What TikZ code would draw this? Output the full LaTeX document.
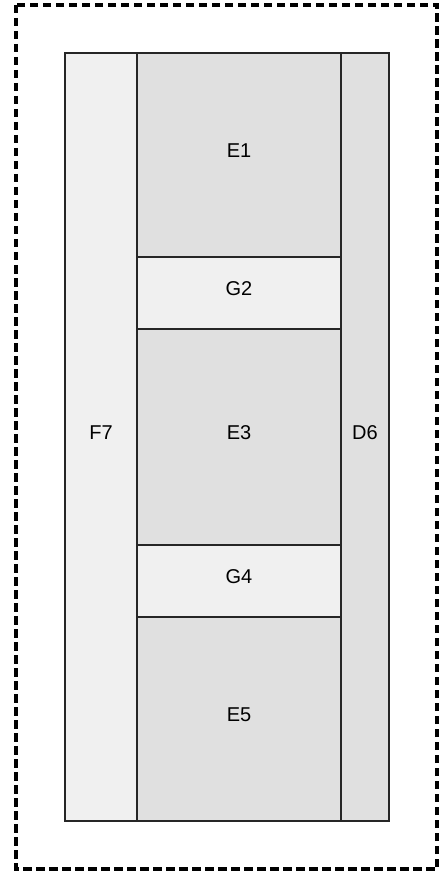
\documentclass[tikz,border=0pt]{standalone}
\usepackage{fontspec}
\setmainfont{Liberation Sans}
\usetikzlibrary{positioning}

\definecolor{cellpale}{HTML}{F0F0F0}
\definecolor{celldark}{HTML}{E0E0E0}
\tikzset{
  cell/.style={draw=black!85, line width=1.4pt, inner sep=0pt, outer sep=0pt,
    text depth=8pt, font=\fontsize{20}{24}\selectfont},
  pale/.style={cell, fill=cellpale},
  dark/.style={cell, fill=celldark},
}

\begin{document}
\begin{tikzpicture}[x=1pt,y=-1pt]
\useasboundingbox (0,0) rectangle (445,874);
\draw[line width=3.2pt, dash pattern=on 8.5pt off 4.5pt] (16,5) rectangle (437,869);
% side columns
\node[pale, minimum width=72pt, minimum height=768pt] (f7) at (101,437) {F7};
\node[dark, minimum width=48pt, minimum height=768pt] (d6) at (365,437) {D6};
% middle stack
\node[dark, minimum width=204pt, minimum height=204pt] (e1) at (239,155) {E1};
\node[pale, minimum width=204pt, minimum height=72pt] (g2) at (239,293) {G2};
\node[dark, minimum width=204pt, minimum height=216pt] (e3) at (239,437) {E3};
\node[pale, minimum width=204pt, minimum height=72pt] (g4) at (239,581) {G4};
\node[dark, minimum width=204pt, minimum height=204pt] (e5) at (239,719) {E5};
\end{tikzpicture}
\end{document}
